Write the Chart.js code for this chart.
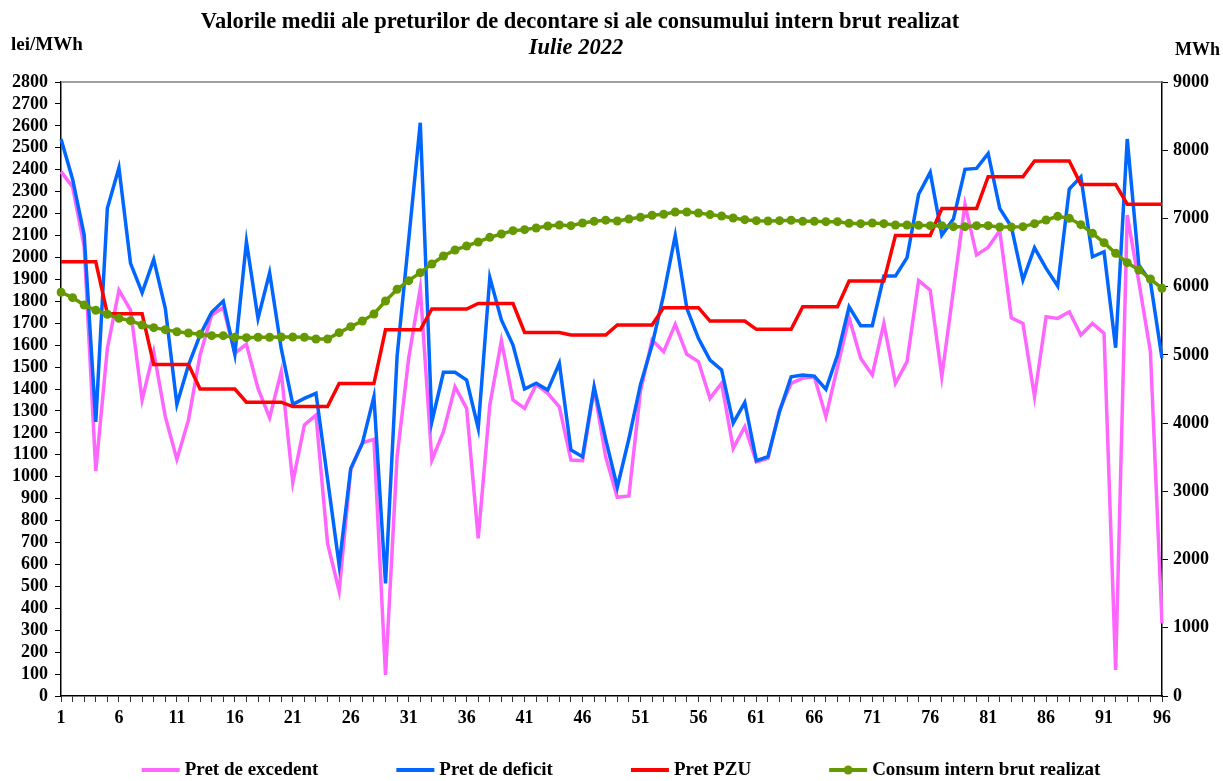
<!DOCTYPE html>
<html>
<head>
<meta charset="utf-8">
<script src="https://cdn.jsdelivr.net/npm/chart.js@4.4.1/dist/chart.umd.min.js"></script>
<style>
  html, body { margin: 0; padding: 0; background: #fff; }
  #wrap { width: 1223px; height: 781px; position: relative; }
</style>
</head>
<body>
<div id="wrap"><canvas id="myChart"></canvas></div>
<script>
const titlu = "Valorile medii ale preturilor de decontare si ale consumului intern brut realizat";
const subtitlu = "Iulie 2022";

// intervale de 15 minute: 1..96
const intervale = Array.from({ length: 96 }, (_, i) => String(i + 1));

const pretExcedent = [
  2391, 2322, 2050, 1026, 1585, 1851, 1760, 1350, 1570, 1274, 1079, 1259,
  1555, 1737, 1771, 1563, 1604, 1403, 1269, 1479, 974, 1236, 1281, 696,
  479, 1031, 1155, 1171, 96, 1091, 1540, 1859, 1076, 1205, 1410, 1312,
  719, 1327, 1620, 1350, 1312, 1420, 1380, 1319, 1076, 1073, 1400, 1090,
  906, 912, 1390, 1623, 1570, 1695, 1558, 1525, 1357, 1426, 1129, 1228,
  1068, 1084, 1304, 1426, 1449, 1456, 1274, 1500, 1725, 1540, 1464, 1699,
  1426, 1525, 1894, 1851, 1456, 1850, 2242, 2011, 2046, 2122, 1725, 1699,
  1365, 1730, 1722, 1752, 1646, 1699, 1654, 119, 2193, 1889, 1570, 331
];

const pretDeficit = [
  2540, 2357, 2102, 1250, 2224, 2409, 1973, 1839, 1991, 1768, 1330, 1509,
  1646, 1750, 1801, 1558, 2072, 1722, 1930, 1585, 1330, 1357, 1380, 990,
  597, 1038, 1152, 1365, 514, 1550, 2080, 2614, 1251, 1476, 1476, 1441,
  1221, 1909, 1715, 1600, 1400, 1426, 1395, 1517, 1122, 1091, 1410, 1170,
  952, 1173, 1420, 1600, 1830, 2100, 1768, 1631, 1532, 1487, 1244, 1338,
  1073, 1091, 1297, 1456, 1464, 1459, 1399, 1555, 1775, 1689, 1689, 1915,
  1915, 1999, 2288, 2388, 2102, 2175, 2402, 2406, 2474, 2224, 2140, 1897,
  2044, 1950, 1870, 2312, 2368, 2003, 2026, 1588, 2540, 1965, 1889, 1540
];

const pretPZU = [
  1980, 1980, 1980, 1980, 1743, 1743, 1743, 1743, 1512, 1512, 1512, 1512,
  1400, 1400, 1400, 1400, 1340, 1340, 1340, 1340, 1320, 1320, 1320, 1320,
  1425, 1425, 1425, 1425, 1670, 1670, 1670, 1670, 1765, 1765, 1765, 1765,
  1790, 1790, 1790, 1790, 1658, 1658, 1658, 1658, 1646, 1646, 1646, 1646,
  1692, 1692, 1692, 1692, 1771, 1771, 1771, 1771, 1710, 1710, 1710, 1710,
  1672, 1672, 1672, 1672, 1775, 1775, 1775, 1775, 1892, 1892, 1892, 1892,
  2100, 2100, 2100, 2100, 2223, 2223, 2223, 2223, 2368, 2368, 2368, 2368,
  2440, 2440, 2440, 2440, 2333, 2333, 2333, 2333, 2243, 2243, 2243, 2243
];

const consumIntern = [
  5918, 5839, 5731, 5654, 5595, 5536, 5502, 5438, 5399, 5370, 5340, 5321,
  5302, 5282, 5282, 5258, 5253, 5258, 5258, 5262, 5262, 5258, 5233, 5233,
  5326, 5414, 5497, 5600, 5790, 5961, 6088, 6205, 6333, 6450, 6538, 6596,
  6655, 6723, 6772, 6821, 6836, 6860, 6890, 6904, 6894, 6933, 6958, 6975,
  6963, 6992, 7017, 7046, 7061, 7095, 7095, 7080, 7056, 7036, 7007, 6982,
  6968, 6963, 6968, 6973, 6958, 6958, 6953, 6953, 6929, 6924, 6933, 6924,
  6904, 6904, 6899, 6894, 6894, 6880, 6880, 6894, 6894, 6875, 6875, 6880,
  6924, 6977, 7031, 7002, 6909, 6782, 6645, 6489, 6352, 6245, 6113, 5976
];

const SERIF = "'Liberation Serif', 'Times New Roman', serif";
Chart.defaults.font.family = SERIF;
Chart.defaults.color = "#000";

// titlu, unitati, chenar sus si legenda
const extras = {
  id: "extras",
  afterDraw(chart) {
    const { ctx, chartArea } = chart;
    ctx.save();
    ctx.strokeStyle = "#808080";
    ctx.lineWidth = 1.5;
    ctx.beginPath();
    ctx.moveTo(chartArea.left, chartArea.top);
    ctx.lineTo(chartArea.right, chartArea.top);
    ctx.stroke();

    ctx.fillStyle = "#000";
    ctx.textBaseline = "middle";
    ctx.textAlign = "center";
    ctx.font = "bold 22.5px " + SERIF;
    ctx.fillText(titlu, 580, 22);
    ctx.font = "italic bold 22.5px " + SERIF;
    ctx.fillText(subtitlu, 576, 48);

    ctx.font = "bold 19px " + SERIF;
    ctx.textAlign = "left";
    ctx.fillText("lei/MWh", 11, 45);
    ctx.font = "bold 18px " + SERIF;
    ctx.textAlign = "right";
    ctx.fillText("MWh", 1220, 50);

    // legenda
    const ds = chart.data.datasets;
    const lung = 38, spatiu = 5, pauza = 78, y = 770;
    ctx.font = "bold 19px " + SERIF;
    const latimi = ds.map(d => lung + spatiu + ctx.measureText(d.label).width);
    const total = latimi.reduce((a, b) => a + b, 0) + pauza * (ds.length - 1);
    let x = 621 - total / 2;
    ctx.textAlign = "left";
    ds.forEach((d, i) => {
      ctx.strokeStyle = d.borderColor;
      ctx.lineWidth = 4;
      ctx.beginPath();
      ctx.moveTo(x, y);
      ctx.lineTo(x + lung, y);
      ctx.stroke();
      if (d.pointRadius > 0) {
        ctx.fillStyle = d.borderColor;
        ctx.beginPath();
        ctx.arc(x + lung / 2, y, 4.5, 0, Math.PI * 2);
        ctx.fill();
      }
      ctx.fillStyle = "#000";
      ctx.fillText(d.label, x + lung + spatiu, y);
      x += latimi[i] + pauza;
    });
    ctx.restore();
  }
};

const ctx = document.getElementById("myChart").getContext("2d");

const myChart = new Chart(ctx, {
  type: "line",
  data: {
    labels: intervale,
    datasets: [
      {
        label: "Pret de excedent",
        data: pretExcedent,
        borderColor: "#FF66FF",
        borderWidth: 3.5,
        pointRadius: 0,
        yAxisID: "y",
        order: 3,
      },
      {
        label: "Pret de deficit",
        data: pretDeficit,
        borderColor: "#0066FF",
        borderWidth: 3.5,
        pointRadius: 0,
        yAxisID: "y",
        order: 2,
      },
      {
        label: "Pret PZU",
        data: pretPZU,
        borderColor: "#FF0000",
        borderWidth: 3.5,
        pointRadius: 0,
        yAxisID: "y",
        order: 1,
      },
      {
        label: "Consum intern brut realizat",
        data: consumIntern,
        borderColor: "#669900",
        backgroundColor: "#669900",
        borderWidth: 3.5,
        pointRadius: 4.5,
        pointBorderWidth: 0,
        pointBackgroundColor: "#669900",
        yAxisID: "y1",
        order: 0,
      },
    ],
  },
  options: {
    responsive: true,
    maintainAspectRatio: false,
    animation: false,
    layout: { padding: { top: 82, left: 0, right: 0, bottom: 0 } },
    plugins: {
      legend: { display: false },
      title: { display: false },
      tooltip: { enabled: false },
    },
    elements: { line: { tension: 0 } },
    scales: {
      x: {
        type: "category",
        offset: false,
        grid: { drawOnChartArea: false, tickLength: 6, color: "#333", lineWidth: 1 },
        border: { display: true, color: "#000", width: 1.5 },
        ticks: {
          autoSkip: false,
          maxRotation: 0,
          padding: 6,
          font: { size: 18, weight: "bold" },
          callback: (v, i) => (i % 5 === 0 ? intervale[i] : ""),
        },
        afterFit: (s) => { s.height = 85; },
      },
      y: {
        position: "left",
        min: 0,
        max: 2800,
        grid: { drawOnChartArea: false, tickLength: 6, color: "#000" },
        border: { display: true, color: "#000", width: 1.5 },
        ticks: {
          stepSize: 100,
          maxTicksLimit: 40,
          autoSkip: false,
          padding: 7,
          font: { size: 18, weight: "bold" },
          callback: (v) => String(v),
        },
        afterFit: (s) => { s.width = 61; },
      },
      y1: {
        position: "right",
        min: 0,
        max: 9000,
        grid: { drawOnChartArea: false, tickLength: 6, color: "#000" },
        border: { display: true, color: "#000", width: 1.5 },
        ticks: {
          stepSize: 1000,
          maxTicksLimit: 20,
          autoSkip: false,
          padding: 5,
          font: { size: 18, weight: "bold" },
          callback: (v) => String(v),
        },
        afterFit: (s) => { s.width = 61; },
      },
    },
  },
  plugins: [extras],
});
</script>
</body>
</html>
